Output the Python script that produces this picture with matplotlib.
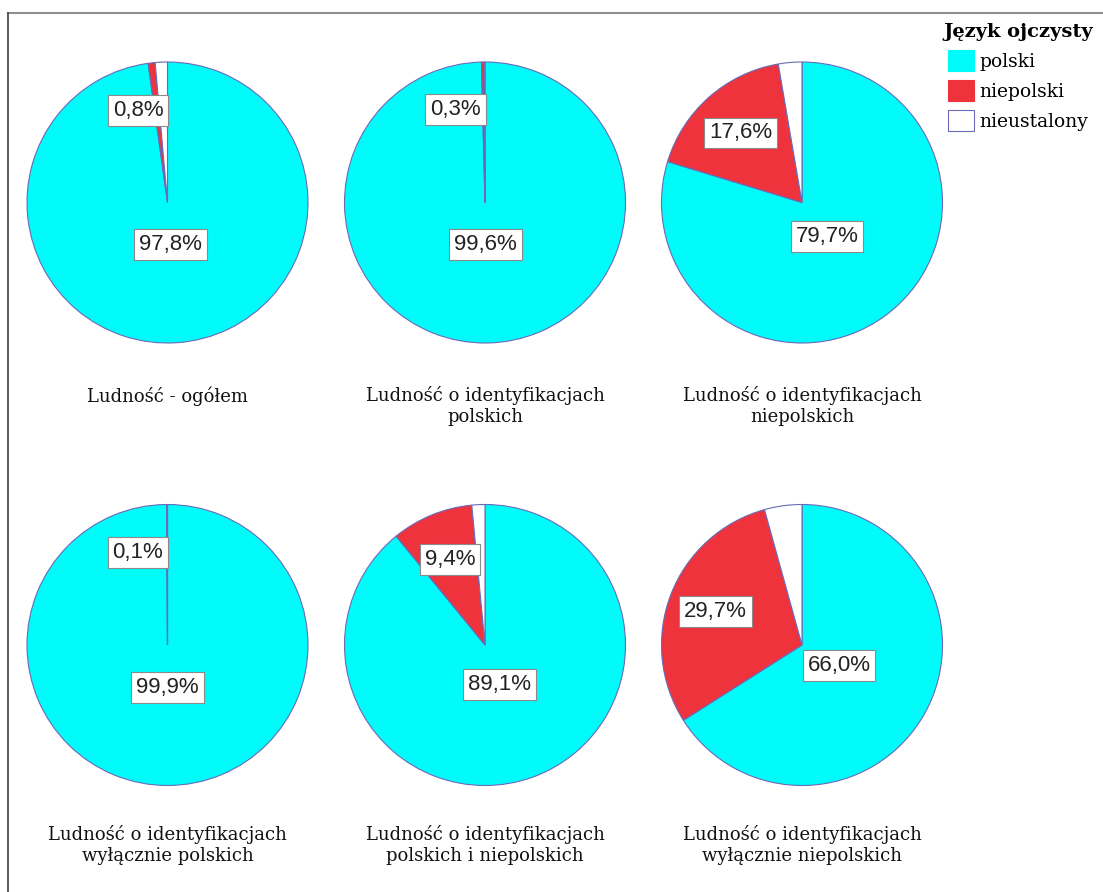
import numpy as np
import matplotlib
matplotlib.use('Agg')
from matplotlib import pyplot as plt
from matplotlib.patches import Patch
from matplotlib.lines import Line2D

# Data
groups = ['Ludność - ogółem',
          'Ludność o identyfikacjach\npolskich',
          'Ludność o identyfikacjach\nniepolskich',
          'Ludność o identyfikacjach\nwyłącznie polskich',
          'Ludność o identyfikacjach\npolskich i niepolskich',
          'Ludność o identyfikacjach\nwyłącznie niepolskich']
categories = ['polski', 'niepolski', 'nieustalony']
polski = [97.8, 99.6, 79.7, 99.9, 89.1, 66.0]
niepolski = [0.8, 0.3, 17.6, 0.1, 9.4, 29.7]
nieustalony = [1.4, 0.1, 2.7, 0.0, 1.5, 4.3]

colors = ['#00fbfb', '#ef333d', '#ffffff']
edge = '#6a6ab8'

W, H = 1103, 892
fig = plt.figure(figsize=(W / 100, H / 100), dpi=100)

# pie centres and radius in pixels
cx = [167.5, 485, 802]
cy = [202.5, 645]
R = 140.5
title_y = [397, 836]


def fmt(v):
    return ('%.1f%%' % v).replace('.', ',')


for i, name in enumerate(groups):
    r, c = divmod(i, 3)
    x0, y0 = cx[c], cy[r]
    s = R * 1.02
    ax = fig.add_axes([(x0 - s) / W, 1 - (y0 + s) / H, 2 * s / W, 2 * s / H])
    vals = [polski[i], niepolski[i], nieustalony[i]]
    wedges, _ = ax.pie(vals, colors=colors, startangle=90, counterclock=False,
                       radius=1.0,
                       wedgeprops=dict(edgecolor=edge, linewidth=0.8))
    ax.set_xlim(-1.02, 1.02)
    ax.set_ylim(-1.02, 1.02)
    ax.set_aspect('equal')
    ax.axis('off')

    box = dict(boxstyle='square,pad=0.22', fc='white', ec='#8a8a8a', lw=0.8)
    # labels for polski and niepolski only
    for k, dist in [(0, 0.3), (1, 0.66)]:
        w = wedges[k]
        mid = np.deg2rad((w.theta1 + w.theta2) / 2)
        lx, ly = dist * np.cos(mid), dist * np.sin(mid)
        ha = 'center'
        if k == 1 and abs(lx) < 0.15:
            lx, ha = -0.03, 'right'
        ax.text(lx, ly, fmt(vals[k]), ha=ha, va='center', fontsize=16,
                family='Liberation Sans', color='#222222', bbox=box)

    fig.text(x0 / W, 1 - (title_y[r] - 11) / H, name, ha='center', va='top',
             fontsize=13, family='DejaVu Serif', linespacing=1.2,
             color='#111111')

# legend
handles = [Patch(facecolor=colors[j], edgecolor=edge if j == 2 else colors[j],
                 lw=0.8) for j in range(3)]
leg = fig.legend(handles, categories, loc='upper left',
                 bbox_to_anchor=(930 / W, 1 - 10 / H), frameon=False,
                 title='Język ojczysty',
                 prop=dict(family='DejaVu Serif', size=13.5),
                 handlelength=1.4, handleheight=1.4, handletextpad=0.3,
                 labelspacing=0.45, borderpad=0.2)
leg.get_title().set_fontweight('bold')
leg.get_title().set_family('DejaVu Serif')
leg.get_title().set_fontsize(14)

# frame lines (top and left)
fig.add_artist(Line2D([8 / W, 1], [1 - 13 / H, 1 - 13 / H], color='#909090',
                      lw=1.5, transform=fig.transFigure))
fig.add_artist(Line2D([8 / W, 8 / W], [0, 1 - 13 / H], color='#404040',
                      lw=1.2, transform=fig.transFigure))

fig.savefig('out.png', dpi=100)
